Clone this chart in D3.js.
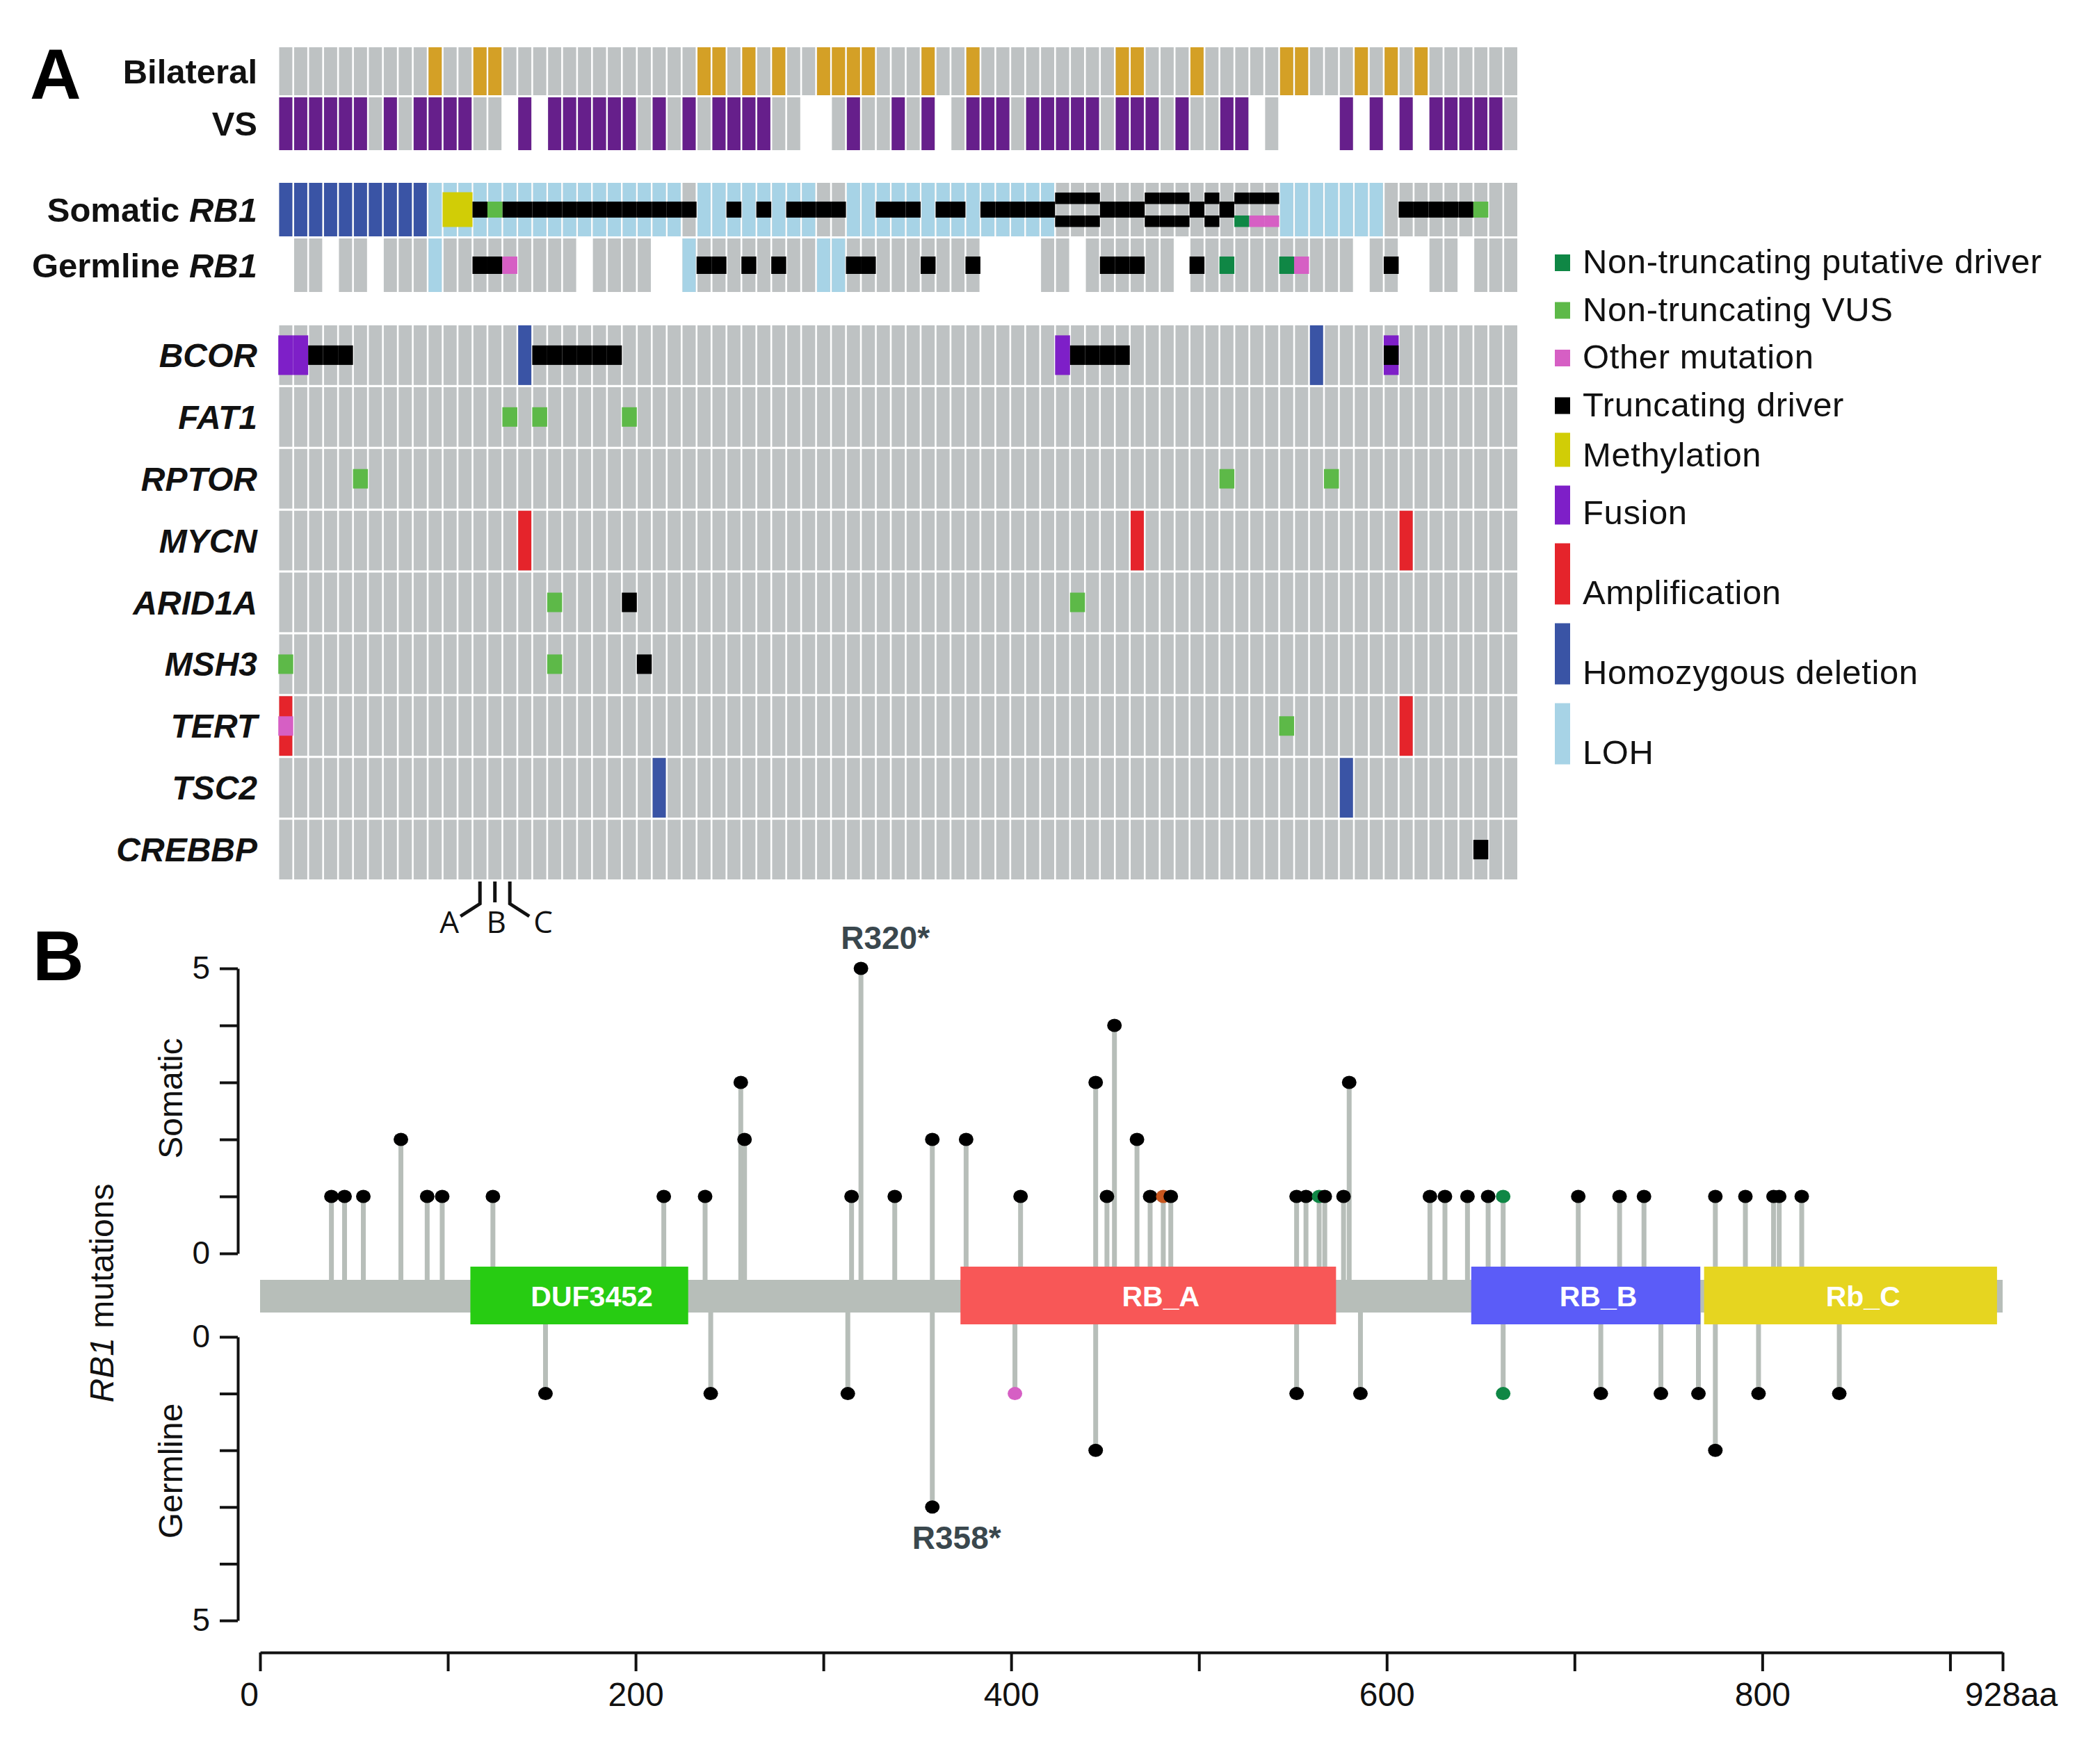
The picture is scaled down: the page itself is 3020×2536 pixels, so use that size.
<!DOCTYPE html>
<html>
<head>
<meta charset="utf-8">
<script src="https://cdn.jsdelivr.net/npm/d3@7"></script>
<style>
  body { margin: 0; background: #fff; }
  text { font-family: "Liberation Sans", Arial, Helvetica, sans-serif; }
</style>
</head>
<body>
<svg id="chart" width="3020" height="2536"></svg>
<script>
// ---------------- data: panel A (oncoprint, 83 samples) ----------------
var nSamples = 83;

var bilateralCols = [10,13,14,28,29,31,33,36,37,38,39,43,46,56,57,61,67,68,72,74,76];
var vsCols = [0,1,2,3,4,5,7,9,10,11,12,16,18,19,20,21,22,23,25,27,29,30,31,32,38,41,43,46,47,48,
              50,51,52,53,54,56,57,58,60,63,64,71,73,75,77,78,79,80,81];
var vsMissing = [15,17,35,36,44,65,67,68,69,70,72,74,76];

var somaticHD = [0,1,2,3,4,5,6,7,8,9];
var somaticLOH = [10,11,12,13,14,15,16,17,18,19,20,21,22,23,24,25,26,28,29,30,31,32,33,34,35,
                  38,39,40,41,42,43,44,45,46,47,48,49,50,51,67,68,69,70,71,72,73];
var somaticMeth = [11,12];
var somaticTrunc = [13,15,16,17,18,19,20,21,22,23,24,25,26,27,30,32,34,35,36,37,40,41,42,44,45,
                    47,48,49,50,51,55,56,57,61,63,75,76,77,78,79];
var somaticVUS = [14,80];
var somaticTruncDouble = [52,53,54,58,59,60,62];
var somaticTruncTop = [64,65,66];
var somaticPutativeBottom = [64];
var somaticOtherBottom = [65,66];

var germlineMissing = [0,3,6,20,25,26,47,48,49,50,53,60,72,75,76,79];
var germlineLOH = [10,27,36,37];
var germlineTrunc = [13,14,28,29,31,33,38,39,43,46,55,56,57,61,74];
var germlineOther = [15,68];
var germlinePutative = [63,67];

var genes = ["BCOR","FAT1","RPTOR","MYCN","ARID1A","MSH3","TERT","TSC2","CREBBP"];
var geneEvents = [
  ["BCOR",0,"fusion"],["BCOR",1,"fusion"],["BCOR",2,"trunc"],["BCOR",3,"trunc"],["BCOR",4,"trunc"],
  ["BCOR",16,"homdel"],["BCOR",17,"trunc"],["BCOR",18,"trunc"],["BCOR",19,"trunc"],["BCOR",20,"trunc"],
  ["BCOR",21,"trunc"],["BCOR",22,"trunc"],["BCOR",52,"fusion"],["BCOR",53,"trunc"],["BCOR",54,"trunc"],
  ["BCOR",55,"trunc"],["BCOR",56,"trunc"],["BCOR",69,"homdel"],["BCOR",74,"fusion"],["BCOR",74,"trunc"],
  ["FAT1",15,"vus"],["FAT1",17,"vus"],["FAT1",23,"vus"],
  ["RPTOR",5,"vus"],["RPTOR",63,"vus"],["RPTOR",70,"vus"],
  ["MYCN",16,"amp"],["MYCN",57,"amp"],["MYCN",75,"amp"],
  ["ARID1A",18,"vus"],["ARID1A",23,"trunc"],["ARID1A",53,"vus"],
  ["MSH3",0,"vus"],["MSH3",18,"vus"],["MSH3",24,"trunc"],
  ["TERT",0,"amp"],["TERT",0,"other"],["TERT",67,"vus"],["TERT",75,"amp"],
  ["TSC2",25,"homdel"],["TSC2",71,"homdel"],
  ["CREBBP",80,"trunc"]
];

var markerCols = [13,14,15];
var markerLabels = ["A","B","C"];

var legendLabels = ["Non-truncating putative driver","Non-truncating VUS","Other mutation","Truncating driver",
                    "Methylation","Fusion","Amplification","Homozygous deletion","LOH"];
var legendKinds = ["putative","vus","other","trunc","meth","fusion","amp","homdel","loh"];

// ---------------- data: panel B (RB1 lollipop) ----------------
var proteinLength = 928;
var domainNames = ["DUF3452","RB_A","RB_B","Rb_C"];
var domainStart = [112,373,645,769];
var domainEnd = [228,573,767,925];

var somaticPos = [38,45,55,75,89,97,124,215,237,256,258,315,320,338,358,376,405,445,451,455,
                  467,474,481,485,552,557,564,567,577,580,623,631,643,654,662,702,724,737,775,791,
                  806,809,821];
var somaticCount = [1,1,1,2,1,1,1,1,1,3,2,1,5,1,2,2,1,3,1,4,
                    2,1,1,1,1,1,1,1,1,3,1,1,1,1,1,1,1,1,1,1,
                    1,1,1];
var somaticKind = {481:"inframe",564:"putative",662:"putative"};

var germlinePos = [152,240,313,358,402,445,552,586,662,714,746,766,775,798,841];
var germlineCount = [1,1,1,3,1,2,1,1,1,1,1,1,2,1,1];
var germlineKind = {402:"other",662:"putative"};

var hotspots = [["R320*","somatic",320,5],["R358*","germline",358,3]];

var xTickValues = [0,100,200,300,400,500,600,700,800,900,928];
var xTickText = {0:"0",200:"200",400:"400",600:"600",800:"800",928:"928aa"};

// ---------------- colours ----------------
var color = {
  gray:"#BEC2C3", gold:"#D4A026", vs:"#661F8B", homdel:"#3A54A5", loh:"#A7D3E6",
  meth:"#D1CD06", vus:"#5DB948", putative:"#0F8745", other:"#D65FC4", trunc:"#000000",
  fusion:"#7E1FC8", amp:"#E5242B", inframe:"#C8561E"
};
var domainColors = ["#27CC12","#F85757","#5B5CF8","#E6D520"];
var stemColor = "#B7BEB9";

var svg = d3.select("#chart");
svg.append("rect").attr("width",3020).attr("height",2536).attr("fill","#fff");

// ================= Panel A =================
var x = d3.scaleBand().domain(d3.range(nSamples)).range([401.5, 2182]).paddingInner(0.12);
var step = x.step(), bw = x.bandwidth();
var labelX = 370;

function cells(g, cols, y0, h, fill, merge) {
  g.append("g").selectAll("rect")
    .data(cols)
    .enter()
    .append("rect")
    .attr("x", function(c){ return merge ? x(c) - (step - bw) / 2 : x(c); })
    .attr("width", merge ? step : bw)
    .attr("y", y0)
    .attr("height", h)
    .attr("fill", fill);
}

var all = d3.range(nSamples);
var trackG = svg.append("g");

// row bands for the clinical and RB1 tracks
var rowBil = {y:68, h:69}, rowVS = {y:140, h:76}, rowSom = {y:263, h:77}, rowGer = {y:343, h:77};

cells(trackG, all, rowBil.y, rowBil.h, color.gray, false);
cells(trackG, bilateralCols, rowBil.y, rowBil.h, color.gold, false);

cells(trackG, all.filter(function(c){ return vsMissing.indexOf(c) < 0; }), rowVS.y, rowVS.h, color.gray, false);
cells(trackG, vsCols, rowVS.y, rowVS.h, color.vs, false);

// somatic RB1
cells(trackG, all, rowSom.y, rowSom.h, color.gray, false);
cells(trackG, somaticHD, rowSom.y, rowSom.h, color.homdel, false);
cells(trackG, somaticLOH, rowSom.y, rowSom.h, color.loh, false);
var sc = rowSom.y + rowSom.h / 2;
cells(trackG, somaticMeth, sc - 25, 50, color.meth, true);
cells(trackG, somaticTrunc, sc - 11.5, 23, color.trunc, true);
cells(trackG, somaticVUS, sc - 11.5, 23, color.vus, true);
cells(trackG, somaticTruncDouble, sc - 24.5, 16.5, color.trunc, true);
cells(trackG, somaticTruncDouble, sc + 8.5, 16.5, color.trunc, true);
cells(trackG, somaticTruncTop, sc - 24.5, 16.5, color.trunc, true);
cells(trackG, somaticPutativeBottom, sc + 8.5, 16.5, color.putative, true);
cells(trackG, somaticOtherBottom, sc + 8.5, 16.5, color.other, true);

// germline RB1
cells(trackG, all.filter(function(c){ return germlineMissing.indexOf(c) < 0; }), rowGer.y, rowGer.h, color.gray, false);
cells(trackG, germlineLOH, rowGer.y, rowGer.h, color.loh, false);
var gc = rowGer.y + rowGer.h / 2;
cells(trackG, germlineTrunc, gc - 12.5, 25, color.trunc, true);
cells(trackG, germlineOther, gc - 12.5, 25, color.other, true);
cells(trackG, germlinePutative, gc - 12.5, 25, color.putative, true);

// track labels
var trackLabels = [["Bilateral", null, rowBil], ["VS", null, rowVS], ["Somatic ", "RB1", rowSom], ["Germline ", "RB1", rowGer]];
trackLabels.forEach(function(t){
  var txt = svg.append("text")
      .attr("x", labelX).attr("y", t[2].y + t[2].h / 2 + 17)
      .attr("text-anchor","end").attr("font-size",49).attr("font-weight","bold").attr("fill","#111");
  txt.append("tspan").text(t[0]);
  if (t[1]) txt.append("tspan").attr("font-style","italic").text(t[1]);
});

// gene rows
var gy = d3.scaleBand().domain(genes).range([468, 1265]).paddingInner(0.035);
var gh = gy.bandwidth();
var geneG = svg.append("g");
genes.forEach(function(gene){
  cells(geneG, all, gy(gene), gh, color.gray, false);
});
var layerOrder = {homdel:0, amp:0, fusion:1, trunc:2, vus:2, putative:2, other:2};
var eventsSorted = geneEvents.slice().sort(function(a,b){ return layerOrder[a[2]] - layerOrder[b[2]]; });
eventsSorted.forEach(function(e){
  var y0 = gy(e[0]), cy = y0 + gh / 2, k = e[2];
  if (k === "homdel" || k === "amp") cells(geneG, [e[1]], y0, gh, color[k], false);
  else if (k === "fusion") cells(geneG, [e[1]], cy - 28.5, 57, color.fusion, true);
  else cells(geneG, [e[1]], cy - 14, 28, color[k], true);
});
svg.append("g").selectAll("text")
  .data(genes)
  .enter()
  .append("text")
  .attr("x", labelX)
  .attr("y", function(d){ return gy(d) + gh / 2 + 17; })
  .attr("text-anchor","end").attr("font-size",48).attr("font-weight","bold").attr("font-style","italic")
  .attr("fill","#111")
  .text(function(d){ return d; });

// A/B/C sample markers under the grid
var mk = svg.append("g").attr("stroke","#111").attr("stroke-width",5).attr("fill","none");
var mTop = 1268, mMid = 1300, mBot = 1318;
markerCols.forEach(function(c, i){
  var cx = x(c) + bw / 2;
  var pts = i === 0 ? [[cx,mTop],[cx,mMid],[cx - 28,mBot]]
          : i === 2 ? [[cx,mTop],[cx,mMid],[cx + 28,mBot]]
          : [[cx,mTop],[cx,mMid - 2]];
  mk.append("path").attr("d", d3.line()(pts));
  svg.append("text")
    .attr("x", i === 0 ? cx - 44 : i === 2 ? cx + 48 : cx + 2)
    .attr("y", 1342)
    .attr("text-anchor","middle").attr("font-size",44)
    .style("font-family","'Open Sans', 'DejaVu Sans', sans-serif")
    .attr("fill","#111")
    .text(markerLabels[i]);
});

// panel letter A
svg.append("text").attr("x",43).attr("y",142).attr("font-size",102).attr("font-weight","bold").text("A");

// legend
var legendH = {putative:24, vus:24, other:24, trunc:24, meth:49, fusion:56, amp:88, homdel:88, loh:88};
var ly = 366;
var legend = svg.append("g");
legendKinds.forEach(function(k, i){
  var h = legendH[k];
  legend.append("rect").attr("x",2236).attr("y",ly).attr("width",22).attr("height",h).attr("fill",color[k]);
  var ty = h < 30 ? ly + h / 2 + 15 : ly + h - 1;
  legend.append("text").attr("x",2276).attr("y",ty).attr("font-size",49).attr("letter-spacing",0.6)
    .attr("fill","#111").text(legendLabels[i]);
  var next = legendKinds[i + 1];
  ly += h + ((h < 30 && next && legendH[next] < 30) ? 44.5 : 27);
});

// ================= Panel B =================
var xa = d3.scaleLinear().domain([0, proteinLength]).range([374, 2880]);
var somY = d3.scaleLinear().domain([0,5]).range([1803,1393]);
var gerY = d3.scaleLinear().domain([0,5]).range([1923,2331]);
var bbY = 1864;

svg.append("text").attr("x",47).attr("y",1410).attr("font-size",102).attr("font-weight","bold").text("B");

// stems
var stems = svg.append("g").attr("stroke",stemColor).attr("stroke-width",7);
somaticPos.forEach(function(p, i){
  stems.append("line").attr("x1",xa(p)).attr("x2",xa(p)).attr("y1",bbY).attr("y2",somY(somaticCount[i]));
});
germlinePos.forEach(function(p, i){
  stems.append("line").attr("x1",xa(p)).attr("x2",xa(p)).attr("y1",bbY).attr("y2",gerY(germlineCount[i]));
});

// backbone and domains
svg.append("rect").attr("x",xa(0)).attr("width",xa(proteinLength) - xa(0))
  .attr("y",1841).attr("height",47).attr("fill",stemColor);
var dom = svg.append("g").selectAll("g")
  .data(domainNames)
  .enter()
  .append("g");
dom.append("rect")
  .attr("x", function(d,i){ return xa(domainStart[i]); })
  .attr("width", function(d,i){ return xa(domainEnd[i]) - xa(domainStart[i]); })
  .attr("y",1822).attr("height",83)
  .attr("fill", function(d,i){ return domainColors[i]; });
dom.append("text")
  .attr("x", function(d,i){ return (xa(domainStart[i]) + xa(domainEnd[i])) / 2 + 18; })
  .attr("y", bbY + 15)
  .attr("text-anchor","middle").attr("font-size",41).attr("font-weight","bold").attr("fill","#fff")
  .text(function(d){ return d; });

// heads
var heads = svg.append("g");
somaticPos.forEach(function(p, i){
  heads.append("ellipse").attr("cx",xa(p)).attr("cy",somY(somaticCount[i])).attr("rx",10.5).attr("ry",9.5)
    .attr("fill", color[somaticKind[p] || "trunc"]);
});
germlinePos.forEach(function(p, i){
  heads.append("ellipse").attr("cx",xa(p)).attr("cy",gerY(germlineCount[i])).attr("rx",10.5).attr("ry",9.5)
    .attr("fill", color[germlineKind[p] || "trunc"]);
});

hotspots.forEach(function(h){
  var yy = h[1] === "somatic" ? somY(h[3]) - 28 : gerY(h[3]) + 60;
  svg.append("text").attr("x", xa(h[2]) + 35).attr("y", yy)
    .attr("text-anchor","middle").attr("font-size",46).attr("font-weight","bold").attr("fill","#3A474D")
    .text(h[0]);
});

// axes
function styleAxis(g, fs) {
  g.attr("font-size", fs).attr("font-family", "'Liberation Sans', Arial, sans-serif");
  g.selectAll("path, line").attr("stroke","#111").attr("stroke-width",4);
  g.selectAll("text").attr("fill","#111");
}
var yFmt = function(d){ return (d === 0 || d === 5) ? d : ""; };
styleAxis(svg.append("g").attr("transform","translate(342,0)")
  .call(d3.axisLeft(somY).tickValues([0,1,2,3,4,5]).tickSize(26).tickSizeOuter(0).tickPadding(14).tickFormat(yFmt)), 46);
styleAxis(svg.append("g").attr("transform","translate(342,0)")
  .call(d3.axisLeft(gerY).tickValues([0,1,2,3,4,5]).tickSize(26).tickSizeOuter(0).tickPadding(14).tickFormat(yFmt)), 46);
var xAxisG = svg.append("g").attr("transform","translate(0,2377)")
  .call(d3.axisBottom(xa).tickValues(xTickValues).tickSize(27).tickSizeOuter(0).tickPadding(16)
    .tickFormat(function(d){ return xTickText[d] || ""; }));
styleAxis(xAxisG, 48);
xAxisG.selectAll(".tick text").attr("dx", function(d){ return d === 0 ? -16 : d === 928 ? 12 : 0; });

// y-axis titles
function vText(tx, ty, parts) {
  var t = svg.append("text").attr("transform","translate(" + tx + "," + ty + ") rotate(-90)")
    .attr("text-anchor","middle").attr("font-size",48).attr("fill","#111");
  parts.forEach(function(p){ var s = t.append("tspan").text(p[0]); if (p[1]) s.attr("font-style","italic"); });
}
vText(262, 1580, [["Somatic"]]);
vText(262, 2116, [["Germline"]]);
vText(163, 1860, [["RB1", true], [" mutations"]]);
</script>
</body>
</html>
